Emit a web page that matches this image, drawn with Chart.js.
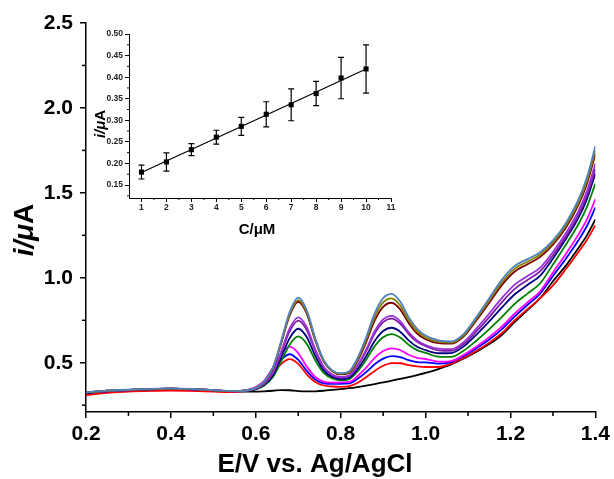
<!DOCTYPE html>
<html><head><meta charset="utf-8">
<script src="https://cdn.jsdelivr.net/npm/chart.js@4/dist/chart.umd.min.js"></script>
<style>
html,body{margin:0;padding:0;background:#fff;}
#wrap{position:relative;width:614px;height:479px;background:#fff;}
#main{position:absolute;left:0;top:0;}
#inset{position:absolute;left:70px;top:15px;}
</style></head><body>
<div id="wrap"><canvas id="main" width="614" height="479"></canvas><canvas id="inset" width="340" height="230"></canvas></div>
<script>
// ---------- main DPV curves ----------
const potential = [0.20,0.25,0.30,0.35,0.40,0.45,0.50,0.55,0.58,0.60,
  0.62,0.64,0.66,0.68,0.70,0.72,0.74,0.76,0.78,0.80,
  0.82,0.84,0.86,0.88,0.90,0.92,0.94,0.96,0.98,1.00,
  1.03,1.06,1.09,1.12,1.15,1.18,1.21,1.24,1.27,1.30,1.33,1.36,1.38,1.40];

const blank = [0.320,0.328,0.333,0.338,0.340,0.338,0.334,0.330,0.330,0.330,
  0.332,0.335,0.339,0.338,0.333,0.331,0.332,0.335,0.340,0.345,
  0.350,0.357,0.365,0.374,0.384,0.395,0.405,0.415,0.427,0.440,
  0.463,0.490,0.525,0.565,0.610,0.665,0.740,0.810,0.880,0.980,1.070,1.175,1.250,1.344];
const c1uM = [0.310,0.322,0.330,0.334,0.336,0.334,0.330,0.327,0.337,0.349,
  0.377,0.432,0.493,0.521,0.493,0.432,0.387,0.366,0.360,0.358,
  0.362,0.382,0.415,0.452,0.482,0.498,0.497,0.486,0.478,0.475,
  0.475,0.494,0.529,0.571,0.618,0.675,0.750,0.815,0.880,0.955,1.050,1.152,1.223,1.310];
const c2uM = [0.322,0.332,0.338,0.343,0.346,0.344,0.337,0.332,0.338,0.352,
  0.384,0.447,0.517,0.550,0.517,0.452,0.401,0.379,0.376,0.376,
  0.378,0.406,0.445,0.491,0.524,0.539,0.533,0.515,0.504,0.502,
  0.495,0.504,0.540,0.586,0.637,0.698,0.773,0.840,0.907,1.011,1.111,1.221,1.305,1.414];
const c3uM = [0.323,0.333,0.339,0.344,0.347,0.344,0.337,0.332,0.340,0.357,
  0.395,0.471,0.555,0.595,0.557,0.477,0.416,0.389,0.383,0.384,
  0.387,0.422,0.471,0.529,0.569,0.585,0.575,0.547,0.529,0.522,
  0.507,0.510,0.547,0.596,0.651,0.714,0.790,0.855,0.921,1.031,1.139,1.254,1.344,1.463];
const c4uM = [0.324,0.334,0.339,0.344,0.347,0.345,0.338,0.333,0.335,0.343,
  0.366,0.414,0.509,0.608,0.655,0.611,0.515,0.440,0.407,0.397,
  0.404,0.450,0.518,0.597,0.650,0.669,0.649,0.606,0.574,0.558,
  0.536,0.534,0.572,0.631,0.698,0.770,0.847,0.907,0.968,1.078,1.193,1.315,1.417,1.555];
const c5uM = [0.324,0.334,0.340,0.345,0.348,0.345,0.338,0.333,0.335,0.345,
  0.371,0.425,0.533,0.646,0.700,0.651,0.541,0.455,0.417,0.404,
  0.411,0.463,0.539,0.628,0.687,0.706,0.683,0.632,0.594,0.574,
  0.556,0.557,0.597,0.666,0.743,0.826,0.903,0.958,1.013,1.114,1.227,1.353,1.463,1.614];
const c6uM = [0.325,0.335,0.340,0.345,0.348,0.345,0.338,0.333,0.336,0.347,
  0.376,0.437,0.559,0.687,0.748,0.693,0.568,0.471,0.427,0.413,
  0.422,0.481,0.569,0.672,0.739,0.760,0.731,0.669,0.623,0.598,
  0.573,0.570,0.611,0.686,0.769,0.857,0.935,0.987,1.039,1.133,1.242,1.371,1.484,1.640];
const c7uM = [0.325,0.335,0.340,0.345,0.348,0.345,0.338,0.333,0.336,0.347,
  0.378,0.442,0.569,0.703,0.767,0.709,0.579,0.477,0.431,0.416,
  0.425,0.486,0.578,0.685,0.755,0.776,0.745,0.680,0.631,0.604,
  0.583,0.580,0.622,0.702,0.790,0.882,0.960,1.010,1.060,1.152,1.261,1.393,1.509,1.673];
const c8uM = [0.325,0.335,0.340,0.345,0.348,0.345,0.338,0.333,0.338,0.351,
  0.387,0.464,0.617,0.780,0.859,0.789,0.631,0.507,0.450,0.431,
  0.440,0.512,0.621,0.748,0.829,0.853,0.814,0.734,0.672,0.638,
  0.615,0.612,0.656,0.750,0.853,0.958,1.037,1.080,1.123,1.195,1.293,1.429,1.553,1.728];
const c9uM = [0.325,0.335,0.340,0.345,0.348,0.345,0.338,0.333,0.338,0.352,
  0.389,0.467,0.623,0.789,0.869,0.798,0.637,0.511,0.452,0.435,
  0.445,0.521,0.635,0.769,0.855,0.879,0.837,0.752,0.686,0.649,
  0.624,0.618,0.663,0.760,0.867,0.974,1.054,1.095,1.137,1.207,1.306,1.443,1.570,1.750];
const c10uM = [0.326,0.336,0.341,0.346,0.349,0.346,0.339,0.334,0.338,0.352,
  0.390,0.470,0.630,0.800,0.883,0.810,0.645,0.515,0.455,0.438,
  0.450,0.530,0.650,0.790,0.880,0.905,0.860,0.770,0.700,0.660,
  0.632,0.625,0.670,0.770,0.880,0.990,1.070,1.110,1.150,1.220,1.320,1.460,1.590,1.775];

const seriesNames = ['0 μM','1 μM','2 μM','3 μM','4 μM','5 μM','6 μM','7 μM','8 μM','9 μM','10 μM'];
const seriesValues = [blank,c1uM,c2uM,c3uM,c4uM,c5uM,c6uM,c7uM,c8uM,c9uM,c10uM];
const seriesColors = ['#000000','#ff0000','#0000ff','#ff00ff','#008000','#000080','#7a1fa2','#9b30d9','#800000','#808000','#4f81bd'];

const xTickValues = [0.2,0.4,0.6,0.8,1.0,1.2,1.4];
const yTickValues = [0.5,1.0,1.5,2.0,2.5];
const xMinorValues = [0.3,0.5,0.7,0.9,1.1,1.3];
const yMinorValues = [0.25,0.75,1.25,1.75,2.25];

// ---------- inset calibration ----------
const concentration = [1,2,3,4,5,6,7,8,9,10];
const peakCurrent = [0.180,0.2035,0.232,0.261,0.286,0.314,0.336,0.362,0.398,0.419];
const currentError = [0.016,0.021,0.014,0.016,0.021,0.029,0.037,0.028,0.048,0.056];
const fitConc = [1,10];
const fitCurrent = [0.179,0.419];
const insetXTicks = [1,2,3,4,5,6,7,8,9,10,11];
const insetYTicks = [0.15,0.20,0.25,0.30,0.35,0.40,0.45,0.50];
const insetXMinor = [1.5,2.5,3.5,4.5,5.5,6.5,7.5,8.5,9.5,10.5];
const insetYMinor = [0.125,0.175,0.225,0.275,0.325,0.375,0.425,0.475];

const FONT = "'Liberation Sans', Arial, sans-serif";

const minorTickPlugin = {
  id: 'minorTicks',
  afterDraw(chart, args, o) {
    const ctx = chart.ctx, a = chart.chartArea, xs = chart.scales.x, ys = chart.scales.y;
    ctx.save();
    ctx.strokeStyle = '#000'; ctx.lineWidth = o.width;
    o.xMinor.forEach(v => { const p = xs.getPixelForValue(v); ctx.beginPath(); ctx.moveTo(p, a.bottom); ctx.lineTo(p, a.bottom + o.len); ctx.stroke(); });
    o.yMinor.forEach(v => { const p = ys.getPixelForValue(v); ctx.beginPath(); ctx.moveTo(a.left, p); ctx.lineTo(a.left - o.len, p); ctx.stroke(); });
    ctx.restore();
  }
};

// axis titles with mixed italic / upright parts
const axisTitlePlugin = {
  id: 'axisTitles',
  afterDraw(chart, args, o) {
    const ctx = chart.ctx;
    o.items.forEach(it => {
      ctx.save();
      ctx.translate(it.x, it.y);
      if (it.rotate) ctx.rotate(-Math.PI / 2);
      ctx.fillStyle = '#000'; ctx.textBaseline = 'middle'; ctx.textAlign = 'left';
      const widths = it.parts.map(p => { ctx.font = p.font; return ctx.measureText(p.text).width; });
      const total = widths.reduce((a, b) => a + b, 0);
      let cx = -total / 2;
      it.parts.forEach((p, k) => { ctx.font = p.font; ctx.fillText(p.text, cx, 0); cx += widths[k]; });
      ctx.restore();
    });
  }
};

const errorBarPlugin = {
  id: 'errorBars',
  afterDatasetsDraw(chart) {
    const ctx = chart.ctx, xs = chart.scales.x, ys = chart.scales.y;
    ctx.save(); ctx.strokeStyle = '#000'; ctx.lineWidth = 1.2;
    concentration.forEach((c, i) => {
      const px = xs.getPixelForValue(c);
      const top = ys.getPixelForValue(peakCurrent[i] + currentError[i]);
      const bot = ys.getPixelForValue(peakCurrent[i] - currentError[i]);
      ctx.beginPath();
      ctx.moveTo(px, top); ctx.lineTo(px, bot);
      ctx.moveTo(px - 3, top); ctx.lineTo(px + 3, top);
      ctx.moveTo(px - 3, bot); ctx.lineTo(px + 3, bot);
      ctx.stroke();
    });
    ctx.restore();
  }
};

new Chart(document.getElementById('main'), {
  type: 'line',
  data: {
    datasets: seriesValues.map((vals, i) => ({
      label: seriesNames[i],
      data: potential.map((e, j) => ({x: e, y: vals[j]})),
      borderColor: seriesColors[i],
      borderWidth: 1.8,
      pointRadius: 0,
      fill: false,
      cubicInterpolationMode: 'monotone',
      order: seriesValues.length - i
    }))
  },
  options: {
    responsive: false, animation: false, devicePixelRatio: 1,
    layout: {padding: {left: 0, right: 18, top: 23, bottom: 0}},
    plugins: {legend: {display: false}, tooltip: {enabled: false},
      minorTicks: {xMinor: xMinorValues, yMinor: yMinorValues, len: 4, width: 1.5},
      axisTitles: {items: [
        {x: 315, y: 465, rotate: false, parts: [{text: 'E/V vs. Ag/AgCl', font: "bold 26px " + FONT}]},
        {x: 25, y: 230, rotate: true, parts: [{text: 'i/μ', font: "italic bold 28px " + FONT}, {text: 'A', font: "bold 28px " + FONT}]}
      ]}},
    scales: {
      x: {
        type: 'linear', min: 0.2, max: 1.4,
        afterBuildTicks: s => { s.ticks = xTickValues.map(v => ({value: v})); },
        afterFit: s => { s.height = 67; },
        ticks: {font: {family: FONT, size: 21, weight: 'bold'}, color: '#000', padding: 4, maxRotation: 0, autoSkip: false,
          callback: v => Number(v).toFixed(1)},
        grid: {display: true, drawOnChartArea: false, drawTicks: true, tickLength: 6, color: '#000', lineWidth: 1.5},
        border: {display: true, color: '#000', width: 1.5},
        title: {display: false}
      },
      y: {
        type: 'linear', min: 0.21, max: 2.5,
        afterBuildTicks: s => { s.ticks = yTickValues.map(v => ({value: v})); },
        afterFit: s => { s.width = 86; },
        ticks: {font: {family: FONT, size: 21, weight: 'bold'}, color: '#000', padding: 7,
          callback: v => Number(v).toFixed(1)},
        grid: {display: true, drawOnChartArea: false, drawTicks: true, tickLength: 6, color: '#000', lineWidth: 1.5},
        border: {display: true, color: '#000', width: 1.5},
        title: {display: false}
      }
    }
  },
  plugins: [minorTickPlugin, axisTitlePlugin]
});

new Chart(document.getElementById('inset'), {
  type: 'scatter',
  data: {
    datasets: [
      {label: 'mean', data: concentration.map((c, i) => ({x: c, y: peakCurrent[i]})),
        pointStyle: 'rect', pointRadius: 3.6, backgroundColor: '#000', borderColor: '#000', borderWidth: 0, showLine: false, order: 0},
      {label: 'fit', data: fitConc.map((c, i) => ({x: c, y: fitCurrent[i]})),
        showLine: true, pointRadius: 0, borderColor: '#000', borderWidth: 1.2, order: 1}
    ]
  },
  options: {
    responsive: false, animation: false, devicePixelRatio: 1,
    layout: {padding: {left: 0, right: 19, top: 19, bottom: 0}},
    plugins: {legend: {display: false}, tooltip: {enabled: false},
      minorTicks: {xMinor: insetXMinor, yMinor: insetYMinor, len: 2, width: 1},
      axisTitles: {items: [
        {x: 187, y: 215, rotate: false, parts: [{text: 'C/μM', font: "bold 15px " + FONT}]},
        {x: 31, y: 109, rotate: true, parts: [{text: 'i/μ', font: "italic bold 15px " + FONT}, {text: 'A', font: "bold 15px " + FONT}]}
      ]}},
    scales: {
      x: {
        type: 'linear', min: 0.5, max: 11,
        afterBuildTicks: s => { s.ticks = insetXTicks.map(v => ({value: v})); },
        afterFit: s => { s.height = 47; },
        ticks: {font: {family: FONT, size: 8.5, weight: 'bold'}, color: '#222', padding: 1, maxRotation: 0, autoSkip: false},
        grid: {display: true, drawOnChartArea: false, drawTicks: true, tickLength: 4, color: '#000', lineWidth: 1},
        border: {display: true, color: '#000', width: 1},
        title: {display: false}
      },
      y: {
        type: 'linear', min: 0.12, max: 0.5,
        afterBuildTicks: s => { s.ticks = insetYTicks.map(v => ({value: v})); },
        afterFit: s => { s.width = 59; },
        ticks: {font: {family: FONT, size: 8.5, weight: 'bold'}, color: '#222', padding: 2,
          callback: v => Number(v).toFixed(2)},
        grid: {display: true, drawOnChartArea: false, drawTicks: true, tickLength: 4, color: '#000', lineWidth: 1},
        border: {display: true, color: '#000', width: 1},
        title: {display: false}
      }
    }
  },
  plugins: [minorTickPlugin, errorBarPlugin, axisTitlePlugin]
});
</script>
</body></html>
